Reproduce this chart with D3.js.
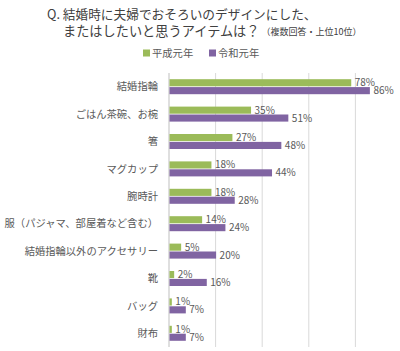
<!DOCTYPE html>
<html><head><meta charset="utf-8">
<script src="https://cdn.jsdelivr.net/npm/d3@7"></script>
<style>
body{margin:0;background:#fff;}
text{font-family:"Noto Sans CJK JP","Noto Sans",sans-serif;}
</style></head>
<body><svg id="c" width="400" height="351"></svg>
<script>
const categories = ["結婚指輪","ごはん茶碗、お椀","箸","マグカップ","腕時計","服（パジャマ、部屋着など含む）","結婚指輪以外のアクセサリー","靴","バッグ","財布"];
const seriesNames = ["平成元年","令和元年"];
const heisei = [78,35,27,18,18,14,5,2,1,1];
const reiwa = [86,51,48,44,28,24,20,16,7,7];
const gridTicks = [20,40,60,80];
const colors = ["#9bbb59","#8064a2"];

const svg = d3.select("#c");
const x = d3.scaleLinear().domain([0,100]).range([169,402]);
const y = d3.scaleBand().domain(categories).range([73,347]);
const inner = d3.scaleBand().domain([0,1]).range([0,15]).paddingInner(0.1);

// title
svg.append("text").attr("fill","#404040").attr("font-size",12.7)
  .attr("x",47).attr("y",18.5).text("Q. 結婚時に夫婦でおそろいのデザインにした、");
const t2 = svg.append("text").attr("fill","#404040").attr("x",63).attr("y",36).attr("font-size",13.2);
t2.append("tspan").text("またはしたいと思うアイテムは？");
t2.append("tspan").attr("font-size",9).attr("dx",2).attr("dy",-1).text("（複数回答・上位10位）");

// legend
const lg = svg.append("g");
const lx = [143,209];
seriesNames.forEach((n,i)=>{
  lg.append("rect").attr("x",lx[i]).attr("y",49.5).attr("width",7).attr("height",7).attr("fill",colors[i]);
  lg.append("text").attr("x",lx[i]+9).attr("y",57).attr("font-size",10.3).attr("fill","#595959").text(n);
});

// grid
svg.append("g").selectAll("line").data(gridTicks).join("line")
  .attr("x1",d=>x(d)).attr("x2",d=>x(d)).attr("y1",73).attr("y2",347)
  .attr("stroke","#d9d9d9").attr("stroke-width",1);
svg.append("line").attr("x1",x(0)).attr("x2",x(0)).attr("y1",73).attr("y2",347)
  .attr("stroke","#bfbfbf").attr("stroke-width",1);

// category labels
svg.append("g").selectAll("text").data(categories).join("text")
  .attr("x",158).attr("y",d=>y(d)+y.bandwidth()/2).attr("dy","0.35em")
  .attr("text-anchor","end").attr("font-size",10.3).attr("fill","#595959").text(d=>d);

// bars
const series = [heisei, reiwa];
series.forEach((vals,si)=>{
  const g = svg.append("g");
  const off = (y.bandwidth()-15)/2;
  g.selectAll("rect").data(vals).join("rect")
    .attr("x",x(0)+0.5).attr("y",(d,i)=>y(categories[i])+off+inner(si))
    .attr("width",d=>x(d)-x(0)).attr("height",inner.bandwidth())
    .attr("fill",colors[si]);
  g.selectAll("text").data(vals).join("text")
    .attr("x",d=>x(d)+4).attr("y",(d,i)=>y(categories[i])+off+inner(si)+inner.bandwidth()/2)
    .attr("dy","0.35em").attr("font-size",10).attr("fill","#595959").text(d=>d+"%");
});
</script></body></html>
